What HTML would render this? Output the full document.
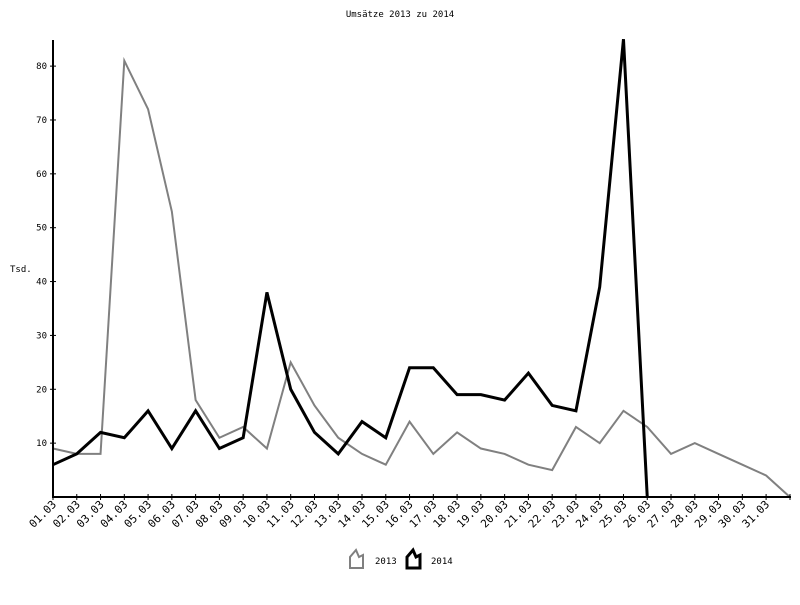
<!DOCTYPE html>
<html><head><meta charset="utf-8"><style>
body{margin:0;background:#fff;width:800px;height:600px;overflow:hidden}
text{font-family:"DejaVu Sans Mono","Liberation Mono",monospace;font-size:9px;fill:#000}
text.xl{font-size:11px}
</style></head><body>
<svg id="s" width="800" height="600" xmlns="http://www.w3.org/2000/svg">
<text x="400" y="17" text-anchor="middle">Umsätze 2013 zu 2014</text>
<text x="10" y="272">Tsd.</text>
<g id="g"></g>
<path d="M350 568 V557 L356 550 L359 557 L363 555 V568 Z" fill="none" stroke="#808080" stroke-width="2"/>
<text x="375" y="564">2013</text>
<path d="M407 568 V557 L413 550 L416 557 L420 555 V568 Z" fill="none" stroke="#000" stroke-width="3"/>
<text x="431" y="564">2014</text>
</svg>
<script>
var g=document.getElementById('g'),h='';
var x0=53,dx=23.77,y0=497,k=5.386;
function X(i){return x0+i*dx}function Y(v){return y0-v*k}
var a=[9,8,8,81,72,53,18,11,13,9,25,17,11,8,6,14,8,12,9,8,6,5,13,10,16,13,8,10,8,6,4,0];
var b=[6,8,12,11,16,9,16,9,11,38,20,12,8,14,11,24,24,19,19,18,23,17,16,39,85,0];
h+='<polyline fill="none" stroke="#808080" stroke-width="2" points="'+a.map(function(v,i){return X(i)+','+Y(v)}).join(' ')+'"/>';
h+='<polyline fill="none" stroke="#000" stroke-width="3" points="'+b.map(function(v,i){return X(i)+','+Y(v)}).join(' ')+'"/>';
h+='<line x1="53" y1="40" x2="53" y2="498" stroke="#000" stroke-width="2"/>';
h+='<line x1="52" y1="497" x2="791" y2="497" stroke="#000" stroke-width="2"/>';
for(var v=10;v<=80;v+=10){var y=Y(v);h+='<line x1="50" y1="'+y+'" x2="56" y2="'+y+'" stroke="#000"/><text x="47" y="'+(y+3)+'" text-anchor="end">'+v+'</text>';}
for(var i=0;i<31;i++){var x=X(i);var d=(i+1<10?'0':'')+(i+1)+'.03';h+='<line x1="'+x+'" y1="494" x2="'+x+'" y2="500" stroke="#000"/><text class="xl" transform="translate('+(x+4)+',505) rotate(-45)" text-anchor="end">'+d+'</text>';}
h+='<line x1="790" y1="494" x2="790" y2="500" stroke="#000"/>';
g.innerHTML=h;
</script>
</body></html>
